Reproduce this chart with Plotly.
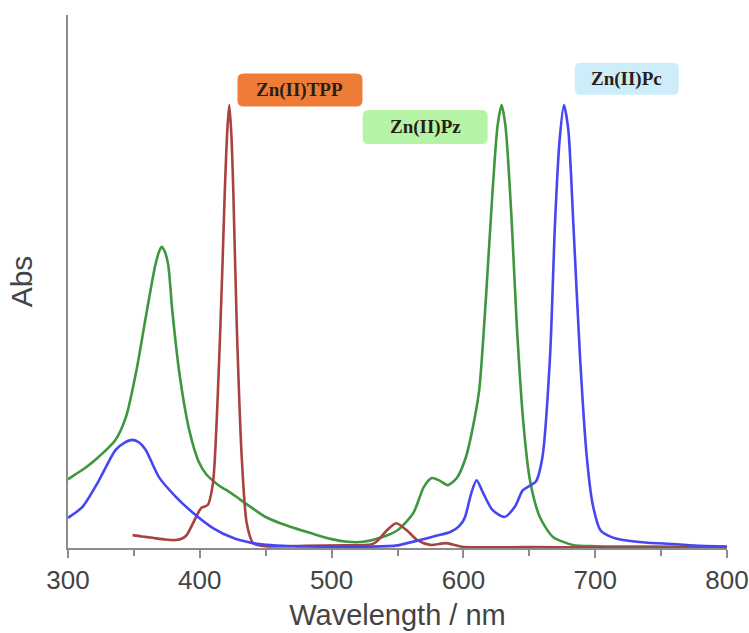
import plotly.graph_objects as go

# UV-vis absorption spectra (normalised absorbance vs wavelength, nm)
tpp_nm = [349, 356, 364, 374, 382, 387, 390, 396, 401, 406, 410, 413.6, 417, 419, 421, 422.4,
          424, 425.4, 428, 431.8, 435.6, 440.5, 450, 480, 510, 530, 534, 542, 549, 557, 565,
          575, 587, 599, 650, 700, 750, 800]
tpp_abs = [0.029, 0.026, 0.023, 0.019, 0.018, 0.022, 0.029, 0.063, 0.090, 0.097, 0.147, 0.341,
           0.62, 0.808, 0.95, 1.0, 0.93, 0.808, 0.508, 0.206, 0.056, 0.011, 0.004, 0.005, 0.006,
           0.008, 0.014, 0.040, 0.056, 0.040, 0.018, 0.007, 0.011, 0.003, 0.002, 0.001, 0.001, 0.001]

pz_nm = [300, 305, 314, 323, 336, 344, 352, 359, 366, 369, 371, 373, 376, 379, 384.5, 392, 399,
         405, 410, 415, 420, 428, 435, 450, 461, 486, 500, 512, 524, 537, 550, 562, 570, 576,
         582, 588, 595, 602, 607, 612, 617, 622, 626, 629, 632, 636.6, 640.4, 645.5, 650.5, 658,
         668, 683, 700, 750, 800]
pz_abs = [0.155, 0.165, 0.183, 0.205, 0.244, 0.296, 0.402, 0.521, 0.635, 0.668, 0.680, 0.672,
          0.640, 0.54, 0.395, 0.266, 0.196, 0.166, 0.152, 0.140, 0.131, 0.115, 0.100, 0.070,
          0.056, 0.032, 0.020, 0.014, 0.014, 0.023, 0.040, 0.079, 0.138, 0.158, 0.152, 0.142,
          0.158, 0.206, 0.27, 0.357, 0.56, 0.80, 0.955, 1.0, 0.95, 0.74, 0.508, 0.282, 0.153,
          0.070, 0.025, 0.007, 0.004, 0.003, 0.002]

pc_nm = [300, 311, 323, 336, 343, 349, 354, 359, 369, 382, 395, 410, 425, 440, 450, 470, 500,
         530, 550, 567, 580, 590, 597, 601, 606, 610, 615, 622, 631, 639, 645, 650, 655, 660,
         665.7, 669.5, 673, 676.3, 679.6, 683.4, 688.5, 693.6, 698, 704, 712, 721, 740, 759,
         780, 800]
pc_abs = [0.068, 0.093, 0.150, 0.221, 0.238, 0.244, 0.238, 0.221, 0.160, 0.115, 0.079, 0.045,
          0.023, 0.011, 0.007, 0.004, 0.003, 0.003, 0.006, 0.018, 0.028, 0.036, 0.050, 0.068,
          0.124, 0.153, 0.124, 0.086, 0.070, 0.093, 0.130, 0.140, 0.150, 0.206, 0.43, 0.733,
          0.921, 1.0, 0.944, 0.733, 0.43, 0.206, 0.100, 0.040, 0.025, 0.018, 0.012, 0.009,
          0.005, 0.003]

# Label tags: text, anchor (wavelength, absorbance), box fill
tag_text = ["Zn(II)TPP", "Zn(II)Pz", "Zn(II)Pc"]
tag_x = [476, 571, 724]
tag_y = [1.034, 0.950, 1.059]
tag_fill = ["#ef7c36", "#b5f3a6", "#cdedfb"]
tag_w = [125, 125, 104]
tag_h = [33, 34, 32]

fig = go.Figure()
for xs, ys, col in [(pz_nm, pz_abs, "#3e973e"),
                    (tpp_nm, tpp_abs, "#a8423e"),
                    (pc_nm, pc_abs, "#4646f2")]:
    fig.add_trace(go.Scatter(x=xs, y=ys, mode="lines",
                             line=dict(color=col, width=2.6, shape="spline", smoothing=0.7),
                             showlegend=False, hoverinfo="skip"))


def rounded_box(w, h, r):
    a, b = w / 2, h / 2
    return (f"M {-a + r} {-b} L {a - r} {-b} Q {a} {-b} {a} {-b + r} "
            f"L {a} {b - r} Q {a} {b} {a - r} {b} L {-a + r} {b} "
            f"Q {-a} {b} {-a} {b - r} L {-a} {-b + r} Q {-a} {-b} {-a + r} {-b} Z")


for t, x, y, f, w, h in zip(tag_text, tag_x, tag_y, tag_fill, tag_w, tag_h):
    fig.add_shape(type="path", xref="x", yref="y", xsizemode="pixel", ysizemode="pixel",
                  xanchor=x, yanchor=y, path=rounded_box(w, h, 6),
                  fillcolor=f, line=dict(width=0), layer="below")
    fig.add_annotation(x=x, y=y, xref="x", yref="y", text=f"<b>{t}</b>", showarrow=False,
                       font=dict(family="Liberation Serif, Times New Roman, serif",
                                 size=19, color="#2a1f17"))

axis_col = "#8c8c8c"
fig.update_layout(
    width=749, height=633,
    margin=dict(l=68, r=22, t=15, b=85),
    paper_bgcolor="white", plot_bgcolor="white",
    font=dict(family="Liberation Sans, Arial, sans-serif", color="#444444"),
    xaxis=dict(range=[300, 800], dtick=100, tick0=300, showgrid=False, zeroline=False,
               automargin=False,
               showline=True, linecolor=axis_col, linewidth=2,
               ticks="outside", ticklen=8, tickwidth=2, tickcolor=axis_col,
               tickfont=dict(size=26, color="#444444"),
               minor=dict(dtick=50, ticks="outside", ticklen=6, tickwidth=2, tickcolor=axis_col),
               title=dict(text="Wavelength / nm", font=dict(size=29, color="#444444"), standoff=10)),
    yaxis=dict(range=[0, 1.203], showgrid=False, zeroline=False, showticklabels=False,
               automargin=False,
               showline=True, linecolor=axis_col, linewidth=2, ticks="",
               title=dict(text="Abs", font=dict(size=30, color="#444444"), standoff=25)),
)

fig.write_html("out.html")
